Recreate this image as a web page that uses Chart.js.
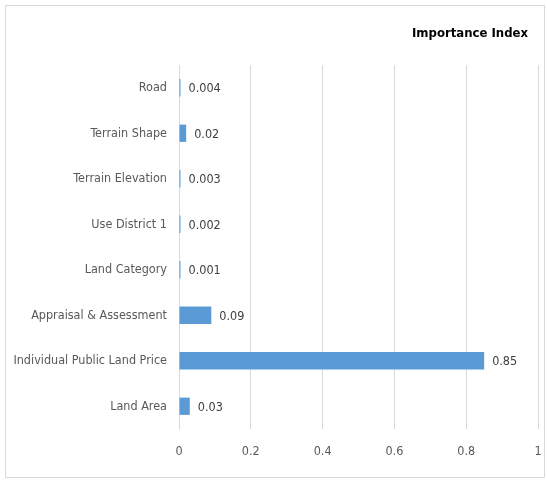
<!DOCTYPE html>
<html>
<head>
<meta charset="utf-8">
<script src="https://cdn.jsdelivr.net/npm/chart.js@4"></script>
<style>
  body { margin: 0; background: #fff; }
  #wrap { position: absolute; left: 5px; top: 5px; width: 538px; height: 471px; border: 1px solid #d9d9d9; }
</style>
</head>
<body>
<div id="wrap"><canvas id="chart"></canvas></div>
<script>
// data
const categories = ['Road', 'Terrain Shape', 'Terrain Elevation', 'Use District 1', 'Land Category',
  'Appraisal & Assessment', 'Individual Public Land Price', 'Land Area'];
const importance = [0.004, 0.02, 0.003, 0.002, 0.001, 0.09, 0.85, 0.03];
const xTicks = [0, 0.2, 0.4, 0.6, 0.8, 1];
const titleText = 'Importance Index';

const FONT = "'Liberation Sans Narrow', 'DejaVu Sans Condensed', 'Open Sans', sans-serif";

// value labels at the end of each bar, plus the title in the top right corner
const barLabels = {
  id: 'barLabels',
  afterDatasetsDraw(chart) {
    const ctx = chart.ctx;
    const meta = chart.getDatasetMeta(0);
    ctx.save();
    ctx.font = '12.5px ' + FONT;
    ctx.fillStyle = '#404040';
    ctx.textAlign = 'left';
    ctx.textBaseline = 'middle';
    meta.data.forEach((bar, i) => {
      ctx.fillText(String(importance[i]), bar.x + 8, bar.y + 1);
    });
    ctx.font = 'bold 13px ' + FONT;
    ctx.fillStyle = '#000';
    ctx.textAlign = 'right';
    ctx.fillText(titleText, chart.chartArea.right - 10, 28);
    ctx.restore();
  }
};

const ctx = document.getElementById('chart').getContext('2d');
const chart = new Chart(ctx, {
  type: 'bar',
  data: {
    labels: categories,
    datasets: [{
      label: titleText,
      data: importance,
      backgroundColor: '#5b9bd5',
      borderWidth: 0,
      minBarLength: 1.5,
      categoryPercentage: 1,
      barPercentage: 0.38
    }]
  },
  plugins: [barLabels],
  options: {
    indexAxis: 'y',
    responsive: true,
    maintainAspectRatio: false,
    animation: false,
    layout: { padding: { left: 0, right: 6, top: 59, bottom: 0 } },
    plugins: {
      legend: { display: false },
      tooltip: { enabled: false },
      title: { display: false }
    },
    scales: {
      x: {
        min: 0,
        max: 1,
        afterBuildTicks(scale) { scale.ticks = xTicks.map(v => ({ value: v })); },
        afterFit(scale) { scale.height = 48; scale.paddingRight = 0; scale.paddingLeft = 0; },
        grid: { color: '#d9d9d9', drawTicks: false },
        border: { display: false },
        ticks: {
          padding: 15,
          color: '#595959',
          font: { family: FONT, size: 12.5 },
          callback: v => String(v)
        }
      },
      y: {
        afterFit(scale) { scale.width = 173; scale.paddingTop = 0; scale.paddingBottom = 0; },
        grid: { display: false, drawTicks: false },
        border: { display: true, color: '#d9d9d9' },
        ticks: {
          padding: 12,
          color: '#595959',
          font: { family: FONT, size: 12.5 }
        }
      }
    }
  }
});
</script>
</body>
</html>
